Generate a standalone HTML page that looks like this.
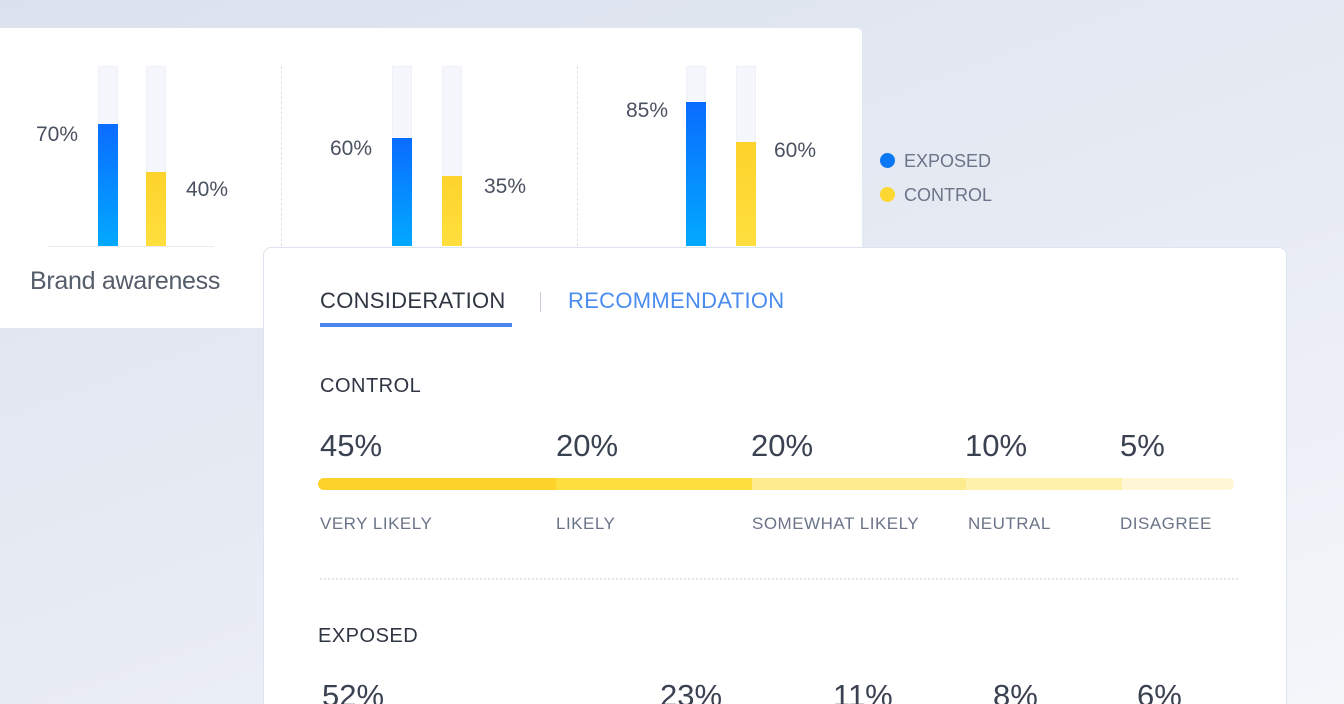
<!DOCTYPE html>
<html style="overflow:hidden;width:1344px;height:704px"><head><style>
*{margin:0;padding:0;box-sizing:border-box}
body{width:1344px;height:704px;overflow:hidden;position:relative;font-family:"Liberation Sans",sans-serif;background:linear-gradient(160deg,#dbe2ee 0%,#e6eaf3 50%,#f4f6fa 100%)}
.a{position:absolute}
.t{position:absolute;white-space:nowrap;line-height:1}
.track{position:absolute;width:20px;top:66px;height:180px;background:#f5f7fc;border:1px solid #eef1f7}
.blue{position:absolute;width:20px;background:linear-gradient(#0a6cff,#02a9ff)}
.yel{position:absolute;width:20px;background:linear-gradient(#fdd32b,#fedf3e)}
.pct{font-size:21px;color:#4a5160}
.lab{font-size:17px;color:#6b7488;letter-spacing:.5px;top:515px}
.big{font-size:31px;color:#3a4150}
</style></head><body>
<div class="a" style="left:0;top:28px;width:862px;height:300px;background:#fff;border-radius:0 6px 6px 0"></div>
<div class="a" style="left:48px;top:246px;width:166px;height:1px;background:#e8ecf3"></div>
<div class="a" style="left:281px;top:66px;height:180px;border-left:1px dashed #dde2ea"></div>
<div class="a" style="left:577px;top:66px;height:180px;border-left:1px dashed #dde2ea"></div>

<div class="track" style="left:98px"></div><div class="blue" style="left:98px;top:124px;height:122px"></div>
<div class="track" style="left:146px"></div><div class="yel" style="left:146px;top:172px;height:74px"></div>
<div class="track" style="left:392px"></div><div class="blue" style="left:392px;top:138px;height:108px"></div>
<div class="track" style="left:442px"></div><div class="yel" style="left:442px;top:176px;height:70px"></div>
<div class="track" style="left:686px"></div><div class="blue" style="left:686px;top:102px;height:144px"></div>
<div class="track" style="left:736px"></div><div class="yel" style="left:736px;top:142px;height:104px"></div>

<div class="t pct" style="left:36px;top:124px">70%</div>
<div class="t pct" style="left:186px;top:179px">40%</div>
<div class="t pct" style="left:330px;top:138px">60%</div>
<div class="t pct" style="left:484px;top:176px">35%</div>
<div class="t pct" style="left:626px;top:100px">85%</div>
<div class="t pct" style="left:774px;top:140px">60%</div>
<div class="t" style="left:30px;top:269px;font-size:25px;color:#555c6a;letter-spacing:-.3px">Brand awareness</div>

<div class="a" style="left:880px;top:153px;width:15px;height:15px;border-radius:50%;background:#0a77f5"></div>
<div class="a" style="left:880px;top:187px;width:15px;height:15px;border-radius:50%;background:#fdd830"></div>
<div class="t" style="left:904px;top:152px;font-size:18px;color:#6b7488">EXPOSED</div>
<div class="t" style="left:904px;top:186px;font-size:18px;color:#6b7488">CONTROL</div>

<div class="a" style="left:263px;top:247px;width:1024px;height:457px;background:#fff;border:1px solid #dde3ef;border-bottom:none;border-radius:8px 8px 0 0"></div>
<div class="t" style="left:320px;top:290px;font-size:22px;color:#2f3542;letter-spacing:.3px">CONSIDERATION</div>
<div class="a" style="left:320px;top:323px;width:192px;height:4px;background:#4a86f0"></div>
<div class="a" style="left:540px;top:292px;width:1px;height:20px;background:#c9ced8"></div>
<div class="t" style="left:568px;top:290px;font-size:22px;color:#4a8cf0;letter-spacing:.3px">RECOMMENDATION</div>

<div class="t" style="left:320px;top:376px;font-size:20px;color:#2f3542;letter-spacing:.5px">CONTROL</div>
<div class="t big" style="left:320px;top:430px">45%</div>
<div class="t big" style="left:556px;top:430px">20%</div>
<div class="t big" style="left:751px;top:430px">20%</div>
<div class="t big" style="left:965px;top:430px">10%</div>
<div class="t big" style="left:1120px;top:430px">5%</div>
<div class="a" style="left:318px;top:478px;width:916px;height:12px;border-radius:6px;overflow:hidden;display:flex">
<div style="width:238px;background:#fdd22a"></div><div style="width:196px;background:#fedf40"></div><div style="width:214px;background:#feeb8e"></div><div style="width:156px;background:#fef1ab"></div><div style="width:112px;background:#fff7d6"></div></div>
<div class="t lab" style="left:320px">VERY LIKELY</div>
<div class="t lab" style="left:556px">LIKELY</div>
<div class="t lab" style="left:752px">SOMEWHAT LIKELY</div>
<div class="t lab" style="left:968px">NEUTRAL</div>
<div class="t lab" style="left:1120px">DISAGREE</div>
<div class="a" style="left:320px;top:578px;width:918px;border-top:2px dotted #e3e7ee"></div>
<div class="t" style="left:318px;top:626px;font-size:20px;color:#2f3542;letter-spacing:.5px">EXPOSED</div>
<div class="t big" style="left:322px;top:680px">52%</div>
<div class="t big" style="left:660px;top:680px">23%</div>
<div class="t big" style="left:833px;top:680px">11%</div>
<div class="t big" style="left:993px;top:680px">8%</div>
<div class="t big" style="left:1137px;top:680px">6%</div>
</body></html>
